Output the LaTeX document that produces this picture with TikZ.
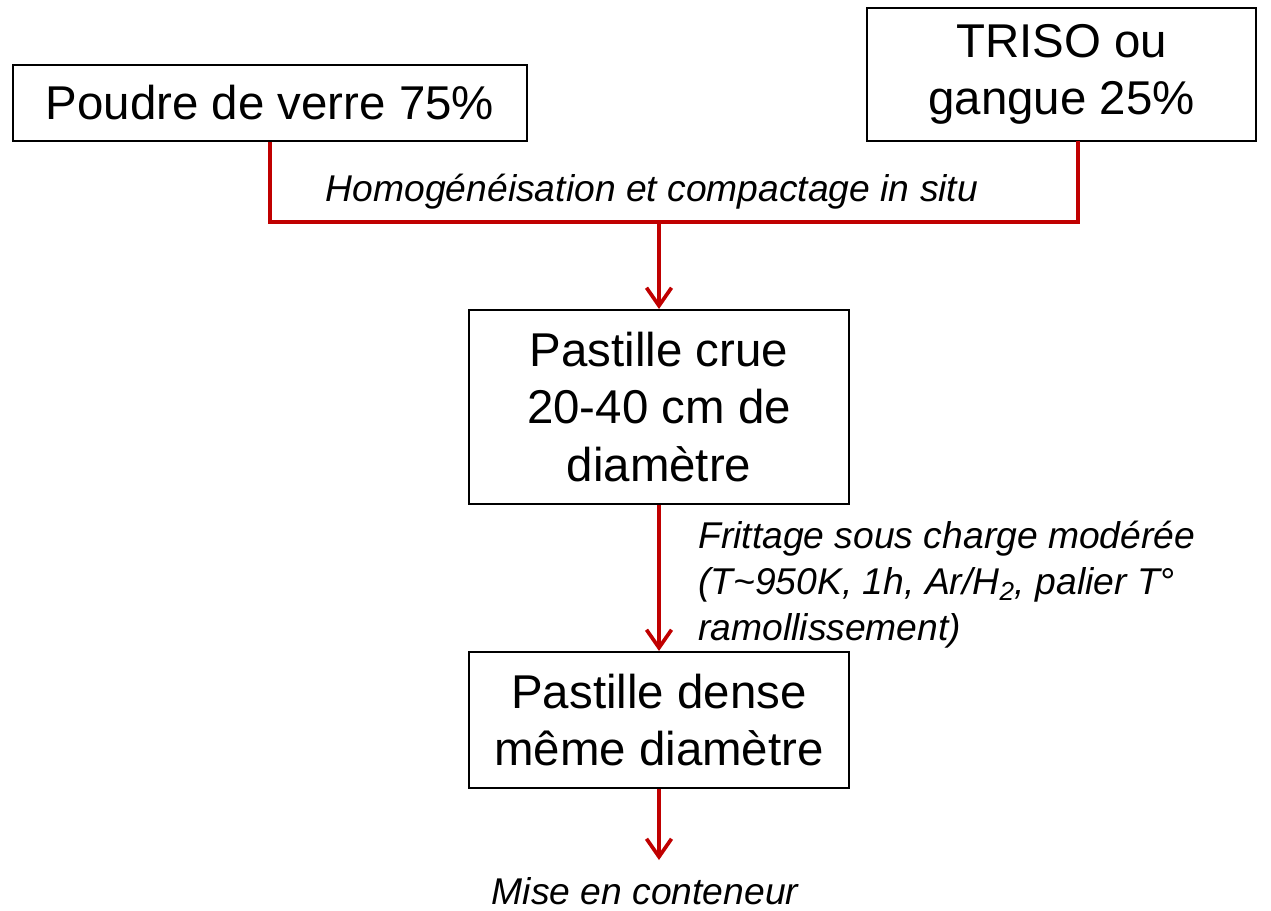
\documentclass[tikz,border=0pt]{standalone}
\usepackage{fontspec}
\setmainfont{Liberation Sans}
\usetikzlibrary{arrows.meta}
\definecolor{flowred}{HTML}{C00000}
\tikzset{
  etape/.style={draw, line width=1.2pt, align=center, inner sep=0pt,
    font=\fontsize{27}{32.5}\selectfont},
  flux/.style={flowred, line width=2.1pt},
  fluxarrow/.style={flux, -{Straight Barb[length=0.36cm, width=0.5cm, line width=2.1pt]}},
  note/.style={font=\fontsize{21.2}{26}\selectfont\itshape, inner sep=0pt}
}
\begin{document}
\begin{tikzpicture}[x=0.02cm, y=-0.02cm]
\useasboundingbox (0,0) rectangle (1271,910);
% inputs
\node[etape, minimum width=10.28cm, minimum height=1.52cm] (poudre) at (270,103) {Poudre de verre 75\%};
\node[etape, minimum width=7.78cm, minimum height=2.66cm] (triso) at (1061.5,74.5) {TRISO ou\\gangue 25\%};
% pellets
\node[etape, minimum width=7.6cm, minimum height=3.88cm] (crue) at (659,407) {Pastille crue\\20-40 cm de\\diamètre};
\node[etape, minimum width=7.6cm, minimum height=2.72cm] (dense) at (659,720) {Pastille dense\\même diamètre};
% joining lines
\coordinate (jonction) at (659,222);
\coordinate (trisobas) at (1078,141);
\coordinate (fin) at (659,860);
\draw[flux] (poudre.south) |- (jonction) -| (trisobas);
\draw[fluxarrow] (jonction) -- (crue.north);
\draw[fluxarrow] (crue.south) -- (dense.north);
\draw[fluxarrow] (dense.south) -- (fin);
% labels
\node[note] (homog) at (652,192) {Homogénéisation et compactage in situ};
\node[note, anchor=north west, align=left] (frittage) at (698,521) {Frittage sous charge modérée\\(T\textasciitilde 950K, 1h, Ar/H\textsubscript{2}, palier T°\\ramollissement)};
\node[note] (conteneur) at (645,891) {Mise en conteneur};
\end{tikzpicture}
\end{document}
